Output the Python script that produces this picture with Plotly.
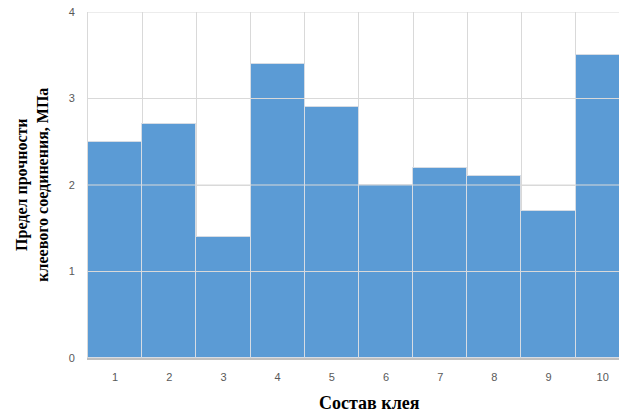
import plotly.graph_objects as go

# Adhesive compositions and their joint strength (MPa)
compositions = [1, 2, 3, 4, 5, 6, 7, 8, 9, 10]
strength = [2.5, 2.7, 1.4, 3.4, 2.9, 2.0, 2.2, 2.1, 1.7, 3.5]
y_ticks = [0, 1, 2, 3, 4]

bar_color = "#5B9BD5"
grid_color = "#D9D9D9"
tick_font = dict(family="Liberation Sans, Arial, sans-serif", size=11, color="#595959")
serif = "Liberation Serif, Times New Roman, serif"

fig = go.Figure(
    go.Bar(
        x=compositions,
        y=strength,
        width=1.0,
        marker=dict(color=bar_color, line=dict(color="#D6DCE4", width=1)),
        hoverinfo="x+y",
    )
)

# horizontal gridlines drawn over the bars
for v in y_ticks[1:]:
    fig.add_shape(
        type="line", xref="paper", yref="y", x0=0, x1=1, y0=v, y1=v,
        line=dict(color=grid_color, width=1), layer="above",
    )

fig.update_layout(
    width=619,
    height=412,
    margin=dict(l=88, r=0, t=12, b=54),
    paper_bgcolor="white",
    plot_bgcolor="white",
    bargap=0,
    showlegend=False,
    xaxis=dict(
        range=[0.5, 10.3],
        tickmode="array",
        tickvals=compositions,
        ticktext=[str(c) for c in compositions],
        tickfont=tick_font,
        ticks="",
        ticklabelstandoff=8,
        showgrid=False,
        zeroline=False,
        showline=True,
        linecolor="#BFBFBF",
        linewidth=1.5,
        minor=dict(
            tickmode="array",
            tickvals=[c - 0.5 for c in compositions],
            showgrid=True,
            gridcolor=grid_color,
            gridwidth=1,
            ticks="",
        ),
    ),
    yaxis=dict(
        range=[0, 4],
        tickmode="array",
        tickvals=y_ticks,
        tickfont=tick_font,
        ticks="",
        ticklabelstandoff=10,
        showgrid=True,
        gridcolor=grid_color,
        zeroline=False,
        showline=True,
        linecolor=grid_color,
        linewidth=1,
    ),
    annotations=[
        dict(
            text="<b>Предел прочности<br>клеевого соединения, МПа</b>",
            xref="paper", yref="paper", x=-0.106, y=0.5,
            xanchor="center", yanchor="middle", textangle=-90,
            showarrow=False, font=dict(family=serif, size=16, color="#000000"),
            align="center",
        ),
        dict(
            text="<b>Состав клея</b>",
            xref="paper", yref="paper", x=0.53, y=-0.13,
            xanchor="center", yanchor="middle",
            showarrow=False, font=dict(family=serif, size=18, color="#000000"),
        ),
    ],
)

fig.write_html("out.html")
